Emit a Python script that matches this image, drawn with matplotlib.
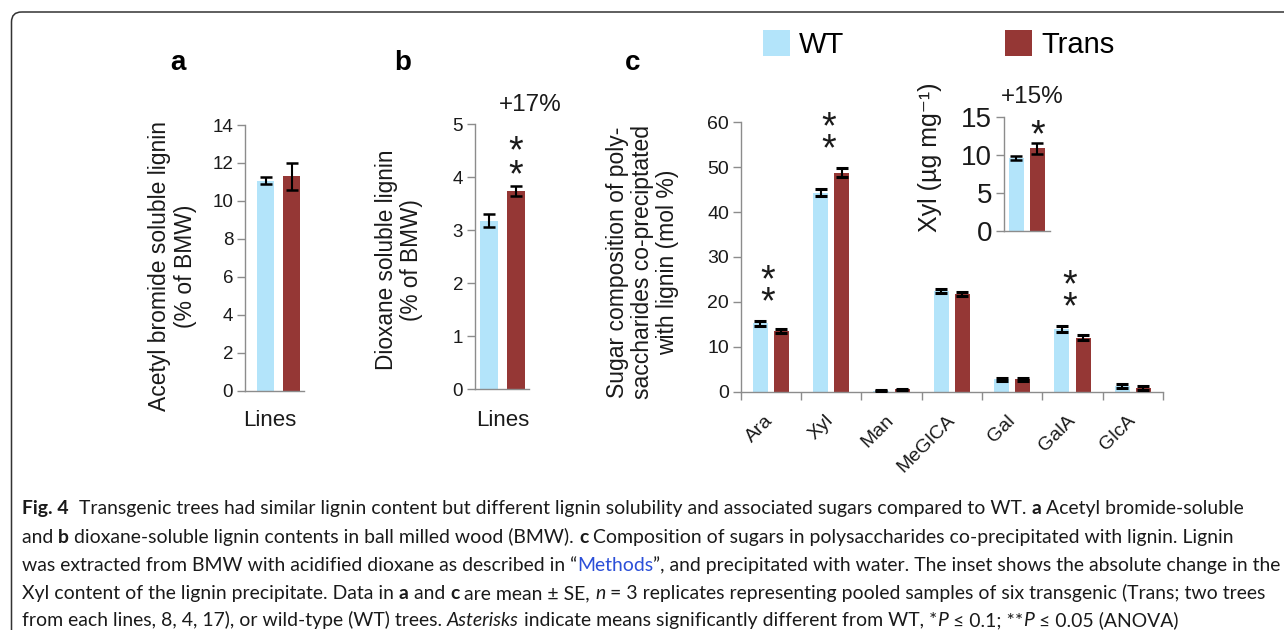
import matplotlib
matplotlib.use('Agg')
import matplotlib.pyplot as plt
import numpy as np
from matplotlib.patches import FancyBboxPatch
from matplotlib.transforms import Affine2D

W, H = 1284, 630
plt.rcParams['font.family'] = ['Liberation Sans', 'DejaVu Sans']

WT_COLOR = '#B3E4FA'
TR_COLOR = '#953735'
AXIS_GRAY = '#8C8C8C'
TXT = '#1a1a1a'

# --- datos ---
groups = ['WT', 'Trans']
acetyl_lignin = [11.07, 11.30]
acetyl_lignin_err = [0.18, 0.72]
dioxane_lignin = [3.18, 3.74]
dioxane_lignin_err = [0.12, 0.09]

sugars = ['Ara', 'Xyl', 'Man', 'MeGlCA', 'Gal', 'GalA', 'GlcA']
wt_sugar = [15.2, 44.3, 0.15, 22.4, 2.7, 13.9, 1.2]
wt_sugar_err = [0.5, 0.8, 0.1, 0.4, 0.25, 0.6, 0.5]
tr_sugar = [13.5, 48.8, 0.5, 21.8, 2.75, 12.0, 0.7]
tr_sugar_err = [0.5, 1.0, 0.1, 0.45, 0.3, 0.55, 0.45]
sugar_sig = ['**', '**', '', '', '', '**', '']

xyl_abs = [9.6, 10.9]
xyl_abs_err = [0.25, 0.7]

fig = plt.figure(figsize=(W / 100, H / 100), dpi=100)


def px_axes(left, right, bottom, top):
    return fig.add_axes([left / W, 1 - bottom / H, (right - left) / W, (bottom - top) / H])


def ftext(x, y, s, **kw):
    return fig.text(x / W, 1 - y / H, s, **kw)


def style_axes(ax, labelsize):
    for side in ['top', 'right']:
        ax.spines[side].set_visible(False)
    for side in ['left', 'bottom']:
        ax.spines[side].set_color(AXIS_GRAY)
        ax.spines[side].set_linewidth(1.0)
    ax.tick_params(axis='y', direction='out', length=5.5, width=1, color=AXIS_GRAY,
                   labelsize=labelsize, pad=3, labelcolor=TXT)
    ax.tick_params(axis='x', length=0, labelbottom=False)


def pair_panel(ax, vals, errs, ymax, step, width, xlim, labelsize=13.5):
    ax.bar([0, 1], vals, width=width, color=[WT_COLOR, TR_COLOR], zorder=2)
    ax.errorbar([0, 1], vals, yerr=errs, fmt='none', ecolor='black', elinewidth=1.5,
                capsize=4.5, capthick=1.8, zorder=3)
    ax.set_ylim(0, ymax)
    ax.set_yticks(np.arange(0, ymax + step / 2, step))
    ax.set_xlim(*xlim)
    style_axes(ax, labelsize)


def stars(ax, x, top, n, offset_pt, size=27, spacing=0.54):
    # asteriscos apilados en un solo texto
    ax.annotate('\n'.join(['*'] * n), xy=(x, top), xytext=(0, offset_pt),
                textcoords='offset points', ha='center', va='bottom', fontsize=size,
                color=TXT, linespacing=spacing, annotation_clip=False)


# Grafico a: lignina soluble en bromuro de acetilo
ax_a = px_axes(245, 304, 390.7, 125)
pair_panel(ax_a, acetyl_lignin, acetyl_lignin_err, 14, 2, 0.64, (-0.794, 1.475))
ftext(172.6, 266, 'Acetyl bromide soluble lignin\n(% of BMW)', rotation=90,
      ha='center', va='center', fontsize=16.5, color=TXT, linespacing=1.15)
ftext(269.3, 420, 'Lines', ha='center', va='center', fontsize=16, color=TXT)
ftext(178.3, 63, 'a', ha='center', va='center', fontsize=20, fontweight='bold', color='black')

# Grafico b: lignina soluble en dioxano
ax_b = px_axes(475, 529, 389, 124.3)
pair_panel(ax_b, dioxane_lignin, dioxane_lignin_err, 5, 1, 0.65, (-0.507, 1.47))
stars(ax_b, 1, dioxane_lignin[1] + dioxane_lignin_err[1], 2, -6, spacing=0.58)
ftext(399, 260, 'Dioxane soluble lignin\n(% of BMW)', rotation=90,
      ha='center', va='center', fontsize=16.3, color=TXT, linespacing=1.15)
ftext(502.3, 420, 'Lines', ha='center', va='center', fontsize=16, color=TXT)
ftext(530, 105, '+17%', ha='center', va='center', fontsize=17.5, color=TXT)
ftext(402.3, 63, 'b', ha='center', va='center', fontsize=20, fontweight='bold', color='black')

# Grafico c: azucares co-precipitados
ax_c = px_axes(740.7, 1163, 391.5, 122.3)
x = np.arange(len(sugars))
b_wt = ax_c.bar(x - 0.175, wt_sugar, 0.25, color=WT_COLOR, zorder=2, label='WT')
b_tr = ax_c.bar(x + 0.175, tr_sugar, 0.25, color=TR_COLOR, zorder=2, label='Trans')
ax_c.errorbar(x - 0.175, wt_sugar, yerr=wt_sugar_err, fmt='none', ecolor='black',
              elinewidth=1.5, capsize=4.5, capthick=2.2, zorder=3)
ax_c.errorbar(x + 0.175, tr_sugar, yerr=tr_sugar_err, fmt='none', ecolor='black',
              elinewidth=1.5, capsize=4.5, capthick=2.2, zorder=3)
ax_c.set_ylim(0, 60)
ax_c.set_yticks(np.arange(0, 61, 10))
ax_c.set_xlim(-0.5, len(sugars) - 0.5)
style_axes(ax_c, 14)
ax_c.set_xticks(x)
ax_c.set_xticklabels(sugars, rotation=45, ha='right', va='center', rotation_mode='anchor')
ax_c.set_xticks(np.arange(-0.5, len(sugars)), minor=True)
ax_c.tick_params(axis='x', which='major', length=0, pad=19, labelbottom=True,
                 labelsize=14, labelcolor=TXT)
ax_c.tick_params(axis='x', which='minor', direction='out', length=5.5, width=1, color=AXIS_GRAY)
for i, s in enumerate(sugar_sig):
    if s:
        top = max(wt_sugar[i] + wt_sugar_err[i], tr_sugar[i] + tr_sugar_err[i])
        stars(ax_c, i - 0.05, top, len(s), 0, spacing=0.5)
ftext(642.5, 262, 'Sugar composition of poly-\nsaccharides co-preciptated\nwith lignin (mol %)',
      rotation=90, ha='center', va='center', fontsize=16.5, color=TXT, linespacing=1.1)
ftext(632.7, 63, 'c', ha='center', va='center', fontsize=20, fontweight='bold', color='black')

# Inserto: Xyl absoluto
ax_in = px_axes(1004, 1050, 230.7, 117.3)
pair_panel(ax_in, xyl_abs, xyl_abs_err, 15, 5, 0.72, (-0.6, 1.61), labelsize=20)
stars(ax_in, 1, xyl_abs[1] + xyl_abs_err[1], 1, -8)
ftext(930, 157, 'Xyl (µg mg\u207b\u00b9)', rotation=90, ha='center', va='center',
      fontsize=18, color=TXT)
ftext(1032, 96.7, '+15%', ha='center', va='center', fontsize=17.5, color=TXT)

# Leyenda
fig.legend(handles=[b_wt, b_tr], labels=groups, ncol=2, loc='upper left',
           bbox_to_anchor=(763 / W, 1 - 30 / H), frameon=False, fontsize=21,
           handlelength=0.93, handleheight=1.0, handletextpad=0.31,
           columnspacing=5.5, borderpad=0, borderaxespad=0)

# Marco redondeado
px = Affine2D().scale(1 / W, -1 / H).translate(0, 1) + fig.transFigure
frame = FancyBboxPatch((11.5, 12), 1400, 700, boxstyle='round,pad=0,rounding_size=10',
                       transform=px, fill=False, edgecolor='#333333', linewidth=1.1,
                       clip_on=False)
fig.patches.append(frame)

# Pie de figura
CAP_FONT = ['Lato', 'DejaVu Sans']
LINK = '#2B4FD8'


def N(s):
    return (s, 'normal', 'normal', TXT)


def B(s):
    return (s, 'bold', 'normal', TXT)


def I(s):
    return (s, 'normal', 'italic', TXT)


def L(s):
    return (s, 'normal', 'normal', LINK)


caption = [
    [B('Fig. 4'), N('  Transgenic trees had similar lignin content but different lignin solubility and '
                    'associated sugars compared to WT. '), B('a'), N(' Acetyl bromide-soluble')],
    [N('and '), B('b'), N(' dioxane-soluble lignin contents in ball milled wood (BMW). '), B('c'),
     N(' Composition of sugars in polysaccharides co-precipitated with lignin. Lignin')],
    [N('was extracted from BMW with acidified dioxane as described in \u201c'), L('Methods'),
     N('\u201d, and precipitated with water. The inset shows the absolute change in the')],
    [N('Xyl content of the lignin precipitate. Data in '), B('a'), N(' and '), B('c'),
     N(' are mean \u00b1 SE, '), I('n'),
     N(' = 3 replicates representing pooled samples of six transgenic (Trans; two trees')],
    [N('from each lines, 8, 4, 17), or wild-type (WT) trees. '), I('Asterisks'),
     N(' indicate means significantly different from WT, *'), I('P'), N(' \u2264 0.1; **'), I('P'),
     N(' \u2264 0.05 (ANOVA)')],
]
line_ends = [1268, 1253, 1275, 1275]

renderer = fig.canvas.get_renderer()


def seg_width(seg, size):
    s, weight, style, _ = seg

    def w(txt):
        t = fig.text(0, 0, txt, fontsize=size, family=CAP_FONT, fontweight=weight, fontstyle=style)
        val = t.get_window_extent(renderer).width
        t.remove()
        return val
    return w('|' + s + '|') - w('||')


x0 = 22
base = 12
cap_size = min(base * (end - x0) / sum(seg_width(sg, base) for sg in segs)
               for segs, end in zip(caption, line_ends))

baselines = [514, 543, 571, 599, 626]
for segs, yb in zip(caption, baselines):
    xpos = x0
    for sg in segs:
        s, weight, style, col = sg
        ftext(xpos, yb, s, fontsize=cap_size, family=CAP_FONT, fontweight=weight,
              fontstyle=style, color=col, ha='left', va='baseline')
        xpos += seg_width(sg, cap_size)

fig.savefig('out.png', dpi=100)
